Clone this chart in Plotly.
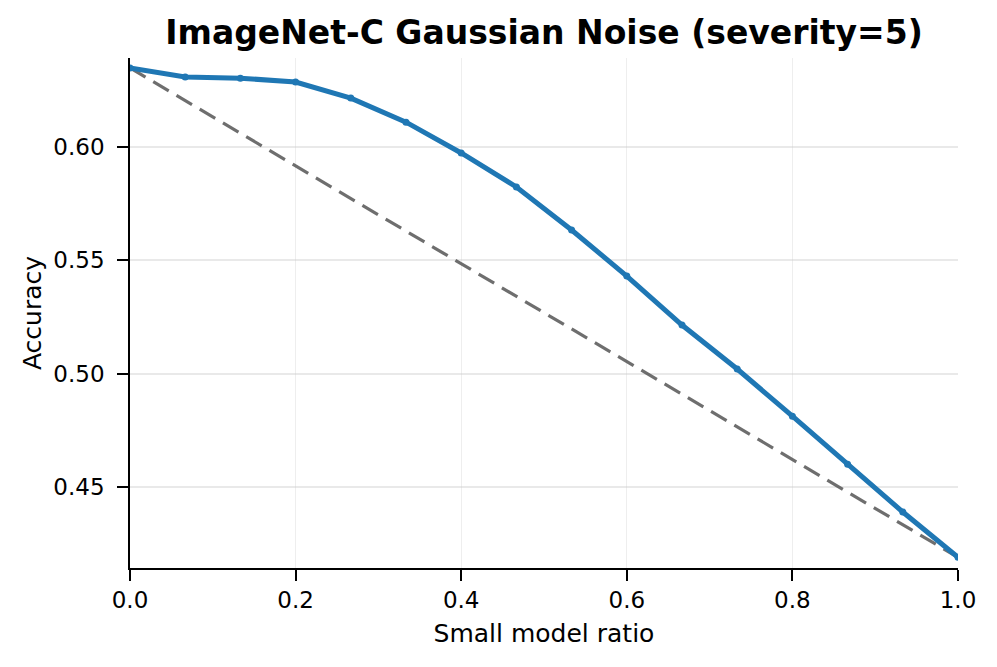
import plotly.graph_objects as go

ratio = [i / 15 for i in range(16)]
accuracy = [0.6349, 0.6309, 0.6304, 0.6287, 0.6216, 0.6110, 0.5974, 0.5824,
            0.5634, 0.5431, 0.5215, 0.5021, 0.4813, 0.4601, 0.4390, 0.4190]
baseline_x = [0.0, 1.0]
baseline_y = [0.6349, 0.4190]

title = "ImageNet-C Gaussian Noise (severity=5)"
x_ticks = [0.0, 0.2, 0.4, 0.6, 0.8, 1.0]
y_ticks = [0.45, 0.50, 0.55, 0.60]

fig = go.Figure()
fig.add_trace(go.Scatter(
    x=baseline_x, y=baseline_y, mode="lines",
    line=dict(color="rgba(85,85,85,0.85)", width=3.2, dash="18px,9px"),
    showlegend=False, hoverinfo="skip"))
fig.add_trace(go.Scatter(
    x=ratio, y=accuracy, mode="lines+markers",
    line=dict(color="#1f77b4", width=5),
    marker=dict(color="#1f77b4", size=7),
    showlegend=False))

font = "DejaVu Sans, sans-serif"
fig.update_layout(
    width=997, height=667,
    paper_bgcolor="white", plot_bgcolor="white",
    margin=dict(l=122, r=47, t=50, b=107),
    title=dict(text="<b>" + title + "</b>", xref="paper", x=0.5, xanchor="center",
               y=0.964, yanchor="middle",
               font=dict(family=font, size=33, color="black")),
    font=dict(family=font, size=23, color="black"),
)
fig.update_xaxes(
    range=[0, 1], tickvals=x_ticks, ticktext=[f"{v:.1f}" for v in x_ticks],
    showline=True, linecolor="black", linewidth=1.7,
    ticks="outside", ticklen=11, tickwidth=1.7, tickcolor="black",
    showgrid=True, gridcolor="rgba(200,200,200,0.3)", gridwidth=1,
    zeroline=False, tickfont=dict(size=23),
    title=dict(text="Small model ratio", font=dict(size=25), standoff=12))
fig.update_yaxes(
    range=[0.4143, 0.6393], tickvals=y_ticks, ticktext=[f"{v:.2f}" for v in y_ticks],
    showline=True, linecolor="black", linewidth=1.7,
    ticks="outside", ticklen=11, tickwidth=1.7, tickcolor="black",
    showgrid=True, gridcolor="rgba(200,200,200,0.4)", gridwidth=1.5,
    zeroline=False, tickfont=dict(size=23), ticklabelstandoff=8,
    title=dict(text="Accuracy", font=dict(size=25), standoff=5))

fig.write_html("out.html")
